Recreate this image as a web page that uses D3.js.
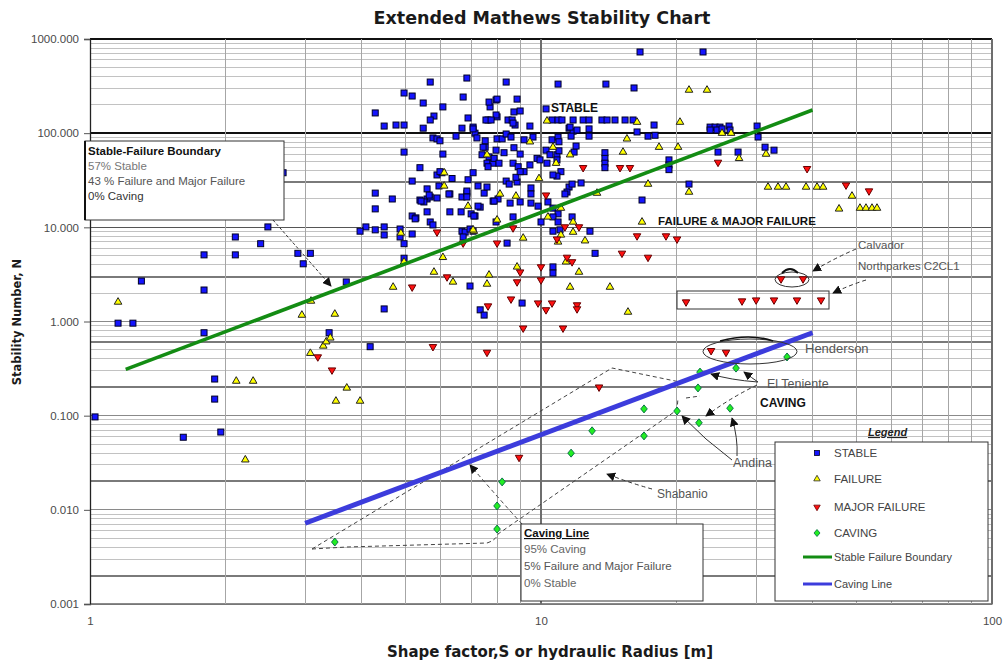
<!DOCTYPE html>
<html>
<head>
<meta charset="utf-8">
<script src="https://cdn.jsdelivr.net/npm/d3@7"></script>
<style>
  body { margin: 0; background: #fff; }
  svg text { font-family: "Liberation Sans", Arial, sans-serif; }
  svg text.heading { font-family: "DejaVu Sans", Verdana, sans-serif; }
</style>
</head>
<body>
<svg id="chart" width="1004" height="663"></svg>
<script>
// ---- Data: shape factor S (hydraulic radius, m) and stability number N ----
const stableS = [5.68,6.85,4.97,5.18,5.48,6.72,6.06,4.29,4.49,4.77,4.97,5.48,5.79,5.68,6.89,6.68,6.48,7.07,7.14,7.21,
  5.76,5.88,5.97,6.06,4.97,5.39,5.88,6.03,6.35,5.18,5.59,5.59,5.88,5.68,6.28,6.68,6.85,6.89,7.25,7.07,
  7.33,7.48,7.59,4.29,4.68,4.29,5.39,5.50,5.59,6.28,6.65,7.00,7.14,5.18,5.28,5.68,5.76,6.68,6.79,6.96,
  7.07,6.72,4.87,4.87,4.97,5.18,4.49,4.49,4.09,3.97,4.97,6.96,4.49,7.33,7.48,3.70,2.89,3.08,2.97,2.68,
  2.48,2.39,2.10,2.10,1.79,1.79,1.30,1.154,1.245,7.95,7.71,7.63,7.99,7.52,7.67,7.59,7.83,7.95,7.83,8.03,
  7.95,1.79,3.39,1.89,1.89,1.95,1.61,1.026,4.18,8.37,10.91,13.93,7.67,7.99,8.85,8.71,8.99,7.95,7.55,7.75,
  8.45,8.63,8.76,9.45,10.26,10.58,10.91,11.13,11.78,12.40,12.78,13.65,14.01,14.59,15.36,16.00,7.07,7.52,7.99,8.20,
  8.37,8.58,9.17,9.60,11.54,11.78,12.02,12.78,12.78,11.66,10.58,10.91,10.96,7.44,7.40,7.87,8.28,8.71,8.99,9.80,
  10.26,10.47,10.85,10.96,11.84,11.96,13.86,13.86,13.86,13.86,8.07,7.63,8.67,8.90,9.45,9.95,10.31,10.85,11.07,10.85,
  10.63,5.97,5.94,6.25,8.37,8.50,8.85,8.80,9.17,8.99,9.50,9.50,11.54,11.42,11.30,11.72,12.27,5.65,5.42,6.85,
  6.85,7.87,8.54,8.99,9.50,9.85,10.36,5.26,7.10,7.25,8.67,10.0,10.63,10.91,10.63,10.91,11.72,12.84,11.02,10.63,
  4.29,16.58,22.87,16.08,8.67,11.60,17.81,16.33,17.27,17.90,23.71,24.32,24.94,23.71,24.56,25.20,26.12,26.25,30.14,30.29,
  31.39,32.86,24.69,27.35,19.22,19.22,19.22,21.29,16.75,13.18,8.41,10.63,10.63,9.08];
const stableN = [349,385,267,248,209,242,190,164,119,122,122,113,152,138,145,113,93,116,100,89,
  89,87,83,60,63,43,36,38,33,31,25.6,20,20.5,21,22.6,21,23.1,32,27.5,38,
  16.4,23.1,26.8,23.1,20,15.7,19.5,18.6,14.6,14.6,14.6,13.9,13.2,13.2,12.6,11.4,10.6,9.1,8.9,9.6,
  9.1,7.9,9.6,7.9,6.7,8.5,10.1,8.3,10.1,9.1,4.7,2.38,1.36,1.33,1.17,2.63,5.3,5.3,4.1,38,
  10.1,6.7,7.9,5.1,5.1,2.16,2.69,0.96,0.96,225,190,138,149,71,56,48,48,66,19,20,
  11.4,0.76,0.76,0.245,0.150,0.067,0.059,0.097,0.54,349,332,332,214,230,230,168,172,156,138,138,
  138,138,122,119,181,138,138,138,138,138,138,138,138,138,138,138,111,83,87,87,
  98,91,85,91,113,105,108,111,93,93,85,91,81,71,59,54,62,70,60,54,
  66,59,59,65,63,73,62,54,48,43,48,44,48,44,46,52,48,52,39,35,
  36,39,27.5,22.6,31,28.8,30.3,34,39,39,26.2,22.6,26.8,23.7,22.6,28.8,29.6,22.0,19.0,24.3,
  21.0,19.0,18.1,18.6,18.1,16.8,18.6,12.3,13.2,16.8,12.9,11.4,16.0,13.9,12.9,11.4,12.9,9.1,9.4,9.1,
  9.4,728,728,302,128,116,122,103,93,95,116,116,116,108,108,111,119,108,119,91,
  71,66,63,63,52,46,41,28.8,19.5,5.3,6.8,3.8,3.27,1.57];

const failureS = [1.154,10.31,9.45,10.63,15.51,7.59,11.60,15.20,10.80,6.10,6.10,9.90,8.11,8.80,6.89,7.99,11.07,10.36,11.78,11.78,
  4.89,7.10,9.13,21.29,23.34,16.33,20.33,25.20,26.39,18.27,20.13,27.49,31.55,17.27,21.29,31.87,33.54,34.94,38.70,40.93,
  42.22,48.93,45.80,50.97,52.55,54.19,55.59,16.75,13.31,12.52,10.91,11.07,11.36,8.85,12.14,11.60,14.22,15.59,4.70,3.49,
  6.06,5.79,6.38,7.67,7.59,4.97,7.07,3.09,2.95,3.08,3.29,3.34,3.41,3.71,3.51,3.97,2.11,2.30,2.21];
const failureN = [1.61,135,81,71,87,59,59,63,48,38,27.5,33,22.6,21.5,16.8,12.0,16.0,12.9,11.4,8.9,
  8.7,9.1,7.7,287,287,131,131,100,100,71,71,54,60,28.8,23.7,26.8,26.8,26.8,26.8,26.8,
  26.8,21.5,15.7,16.0,16.0,16.0,16.0,11.4,23.1,7.2,7.0,8.3,4.3,3.8,3.35,2.32,2.32,1.26,2.32,1.20,
  4.8,3.35,2.63,3.12,2.50,4.3,9.4,1.65,1.17,0.46,0.55,0.61,0.67,0.197,0.143,0.143,0.233,0.233,0.034];

const majorS = [12.40,14.97,15.75,10.26,11.30,12.14,5.88,8.67,10.85,24.69,38.90,47.46,53.37,16.33,18.93,20.03,15.12,17.27,11.42,11.72,
  10.0,8.99,8.85,10.0,8.58,9.85,10.58,10.26,12.02,12.02,20.97,27.91,29.99,32.86,36.95,41.78,34.06,38.11,9.13,11.19,
  23.83,25.72,13.45,8.94,3.20,3.44,5.76,7.59,5.18,6.72,7.99,6.19,7.63];
const majorN = [43,43,43,22.0,10.1,10.1,8.9,9.85,7.5,49,42,28.1,24.3,8.1,8.1,7.5,5.3,4.8,4.8,4.3,
  3.8,3.35,2.63,2.76,1.73,1.57,1.57,1.33,1.50,1.36,1.61,1.65,1.69,1.69,1.69,1.69,2.83,2.83,0.85,0.85,
  0.49,0.47,0.201,0.036,0.42,0.305,0.54,0.47,2.32,6.8,6.8,2.97,1.46];

const cavingS = [35.12,22.52,27.07,22.29,16.92,20.03,22.40,26.25,12.98,16.92,11.66,8.20,7.99,7.99,3.49];
const cavingN = [0.42,0.29,0.32,0.197,0.118,0.112,0.084,0.120,0.069,0.061,0.040,0.0198,0.0110,0.00625,0.00455];

// Fitted boundaries (end points of each straight log-log line)
const boundaryS = [1.2, 40];
const boundaryN = [0.31, 176];
const cavingLineS = [3.0, 40];
const cavingLineN = [0.0072, 0.76];

// Axis ticks
const xTicks = [1, 10, 100];
const yTicks = [0.001, 0.01, 0.1, 1, 10, 100, 1000];
const yHeavy = [30, 3, 0.6, 0.2, 0.02, 0.002];

const legendLabels = ["STABLE", "FAILURE", "MAJOR FAILURE", "CAVING", "Stable Failure Boundary", "Caving Line"];

// ---- Chart ----
const svg = d3.select("#chart");
const x = d3.scaleLog().domain([1, 100]).range([90, 992]);
const y = d3.scaleLog().domain([0.001, 1000]).range([604, 39]);

const defs = svg.append("defs");
defs.append("marker").attr("id", "ah").attr("viewBox", "0 0 10 10")
  .attr("refX", 9).attr("refY", 5).attr("markerWidth", 9).attr("markerHeight", 9)
  .attr("markerUnits", "userSpaceOnUse").attr("orient", "auto")
  .append("path").attr("d", "M0,0 L10,5 L0,10 z").attr("fill", "#111");

// Grid
const grid = svg.append("g").attr("shape-rendering", "crispEdges");
const xGrid = [];
[1, 10].forEach(d => { for (let k = 2; k <= 9; k++) xGrid.push(k * d); });
const yGrid = [];
[0.001, 0.01, 0.1, 1, 10, 100].forEach(d => { for (let k = 2; k <= 9; k++) yGrid.push(+(k * d).toPrecision(3)); });

grid.selectAll("line.hy").data(yGrid).join("line")
  .attr("x1", 90).attr("x2", 992).attr("y1", d => y(d)).attr("y2", d => y(d))
  .attr("stroke", "#c2c2c2").attr("stroke-width", 1);
grid.selectAll("line.hh").data(yHeavy).join("line")
  .attr("x1", 90).attr("x2", 992).attr("y1", d => y(d)).attr("y2", d => y(d))
  .attr("stroke", "#7a7a7a").attr("stroke-width", 2);
grid.selectAll("line.hd").data(yTicks).join("line")
  .attr("x1", 90).attr("x2", 992).attr("y1", d => y(d)).attr("y2", d => y(d))
  .attr("stroke", d => (d >= 100 ? "#111" : (d >= 10 ? "#555" : "#8a8a8a")))
  .attr("stroke-width", d => (d >= 10 ? 1.6 : 1.2));
grid.selectAll("line.vx").data(xGrid).join("line")
  .attr("y1", 39).attr("y2", 604).attr("x1", d => x(d)).attr("x2", d => x(d))
  .attr("stroke", "#a6a6a6").attr("stroke-width", 1);
grid.selectAll("line.vd").data([10, 100]).join("line")
  .attr("y1", 39).attr("y2", 604).attr("x1", d => x(d)).attr("x2", d => x(d))
  .attr("stroke", "#6e6e6e").attr("stroke-width", 1.2);

// Axes
const yAxis = svg.append("g").attr("transform", "translate(90,0)")
  .call(d3.axisLeft(y).tickValues(yTicks).tickFormat(d3.format(".3f")).tickSize(6).tickPadding(5));
const xAxis = svg.append("g").attr("transform", "translate(0,604)")
  .call(d3.axisBottom(x).tickValues(xTicks).tickFormat(d3.format("d")).tickSize(0).tickPadding(13));
[yAxis, xAxis].forEach(a => {
  a.selectAll("text").attr("font-size", 11.5).attr("fill", "#4a4a4a");
  a.selectAll("line").attr("stroke", "#555");
});
yAxis.select(".domain").attr("stroke", "#222").attr("stroke-width", 1.3);
xAxis.select(".domain").attr("stroke", "#777");

// Envelope around caving records (dashed)
const dash = svg.append("g").attr("fill", "none").attr("stroke", "#444").attr("stroke-width", 1)
  .attr("stroke-dasharray", "4,3");
dash.append("path").attr("d", "M312,549 L612,368 L680,382 M686,398 L700,396");
dash.append("path").attr("d", "M312,549 L347,547 L487,543 Q496,540 498,534 L677,410 L678,398");

// Data points
const pts = svg.append("g");
pts.selectAll("rect.s").data(d3.zip(stableS, stableN)).join("rect")
  .attr("x", d => x(d[0]) - 3).attr("y", d => y(d[1]) - 3).attr("width", 6).attr("height", 6)
  .attr("fill", "#1414ff").attr("stroke", "#000024").attr("stroke-width", 1);

const triUp = d3.symbol().type(d3.symbolTriangle).size(25);
pts.selectAll("path.f").data(d3.zip(failureS, failureN)).join("path")
  .attr("d", triUp).attr("transform", d => `translate(${x(d[0])},${y(d[1])})`)
  .attr("fill", "#ffff00").attr("stroke", "#222").attr("stroke-width", 1);

const triDown = d3.symbol().type(d3.symbolTriangle).size(24);
pts.selectAll("path.m").data(d3.zip(majorS, majorN)).join("path")
  .attr("d", triDown).attr("transform", d => `translate(${x(d[0])},${y(d[1])}) rotate(180)`)
  .attr("fill", "#ff1010").attr("stroke", "#600").attr("stroke-width", 1);

const diamond = "M0,-4L3.3,0L0,4L-3.3,0Z";
pts.selectAll("path.c").data(d3.zip(cavingS, cavingN)).join("path")
  .attr("d", diamond).attr("transform", d => `translate(${x(d[0])},${y(d[1])})`)
  .attr("fill", "#22ee22").attr("stroke", "#064").attr("stroke-width", 0.9);

// Boundary lines
const line = d3.line().x(d => x(d[0])).y(d => y(d[1]));
svg.append("path").datum(d3.zip(boundaryS, boundaryN)).attr("d", line)
  .attr("fill", "none").attr("stroke", "#138c13").attr("stroke-width", 3.6);
svg.append("path").datum(d3.zip(cavingLineS, cavingLineN)).attr("d", line)
  .attr("fill", "none").attr("stroke", "#3c3cdc").attr("stroke-width", 5);

// ---- Annotations ----
const ann = svg.append("g");
const txt = (g, t, px, py, o = {}) => g.append("text").attr("x", px).attr("y", py).text(t)
  .attr("font-size", o.size || 11.5).attr("font-weight", o.bold ? "bold" : null)
  .attr("font-style", o.italic ? "italic" : null).attr("fill", o.fill || "#333")
  .attr("text-decoration", o.under ? "underline" : null).attr("text-anchor", o.anchor || "start");

// Stable-Failure Boundary note
ann.append("rect").attr("x", 85).attr("y", 141).attr("width", 199).attr("height", 79)
  .attr("fill", "#fff").attr("stroke", "#333").attr("stroke-width", 1);
ann.append("line").attr("x1", 85).attr("x2", 85).attr("y1", 141).attr("y2", 220).attr("stroke", "#111").attr("stroke-width", 2);
txt(ann, "Stable-Failure Boundary", 88, 155, { bold: true, fill: "#111" });
txt(ann, "57% Stable", 88, 170, { fill: "#777" });
txt(ann, "43 % Failure and Major Failure", 88, 185, { fill: "#555" });
txt(ann, "0% Caving", 88, 200, { fill: "#333" });
ann.append("path").attr("d", "M273,220 L331,286").attr("fill", "none").attr("stroke", "#333")
  .attr("stroke-dasharray", "3,2").attr("marker-end", "url(#ah)");

// Region labels
txt(ann, "STABLE", 551, 112, { bold: true, size: 12, fill: "#111" });
txt(ann, "FAILURE & MAJOR FAILURE", 658, 224.5, { bold: true, size: 11.5, fill: "#111" });
txt(ann, "CAVING", 760, 407, { bold: true, size: 12, fill: "#111" });

// Calvador / Northparkes
txt(ann, "Calvador", 858, 249, { size: 11.5, fill: "#555" });
txt(ann, "Northparkes C2CL1", 858, 270, { size: 11.5, fill: "#555" });
ann.append("ellipse").attr("cx", 792).attr("cy", 279.5).attr("rx", 17).attr("ry", 7.5)
  .attr("fill", "none").attr("stroke", "#333");
ann.append("path").attr("d", "M782,273 Q790,265 798,273").attr("fill", "none").attr("stroke", "#111").attr("stroke-width", 2);
ann.append("rect").attr("x", 677).attr("y", 291).attr("width", 152).attr("height", 18)
  .attr("fill", "none").attr("stroke", "#333");
ann.append("path").attr("d", "M856,249 Q835,258 813,271").attr("fill", "none").attr("stroke", "#333")
  .attr("stroke-dasharray", "4,3").attr("marker-end", "url(#ah)");
ann.append("path").attr("d", "M866,280 Q850,285 833,293").attr("fill", "none").attr("stroke", "#333")
  .attr("stroke-dasharray", "4,3").attr("marker-end", "url(#ah)");

// Henderson
ann.append("ellipse").attr("cx", 750).attr("cy", 351.5).attr("rx", 47).attr("ry", 12.5)
  .attr("fill", "none").attr("stroke", "#333");
ann.append("path").attr("d", "M720,341 Q750,333 773,341").attr("fill", "none").attr("stroke", "#111").attr("stroke-width", 1.6);
txt(ann, "Henderson", 805, 353, { size: 13, fill: "#555" });

// El Teniente
txt(ann, "El Teniente", 767, 388, { size: 12.5, fill: "#555" });
ann.append("path").attr("d", "M758,382 Q730,380 711,374").attr("fill", "none").attr("stroke", "#333").attr("marker-end", "url(#ah)");
ann.append("path").attr("d", "M758,382 Q752,378 744,372").attr("fill", "none").attr("stroke", "#333").attr("marker-end", "url(#ah)");
ann.append("path").attr("d", "M757,385 Q730,398 706,416").attr("fill", "none").attr("stroke", "#333")
  .attr("stroke-dasharray", "4,3").attr("marker-end", "url(#ah)");

// Andina
txt(ann, "Andina", 733, 467, { size: 12.5, fill: "#555" });
ann.append("path").attr("d", "M737,456 Q738,438 732,418").attr("fill", "none").attr("stroke", "#333").attr("marker-end", "url(#ah)");
ann.append("path").attr("d", "M732,460 Q705,440 682,416").attr("fill", "none").attr("stroke", "#333").attr("marker-end", "url(#ah)");

// Shabanio
txt(ann, "Shabanio", 657, 498, { size: 12, fill: "#555" });
ann.append("path").attr("d", "M652,489 Q630,483 607,474").attr("fill", "none").attr("stroke", "#333")
  .attr("stroke-dasharray", "4,3").attr("marker-end", "url(#ah)");

// Caving Line note
ann.append("path").attr("d", "M522,524 Q500,500 470,465").attr("fill", "none").attr("stroke", "#444")
  .attr("stroke-dasharray", "4,3").attr("marker-end", "url(#ah)");
ann.append("rect").attr("x", 521).attr("y", 524).attr("width", 182).attr("height", 77)
  .attr("fill", "#fff").attr("stroke", "#333");
txt(ann, "Caving Line", 524, 537, { bold: true, under: true, fill: "#111" });
txt(ann, "95% Caving", 524, 553, { fill: "#666" });
txt(ann, "5% Failure and Major Failure", 524, 570, { fill: "#555" });
txt(ann, "0% Stable", 524, 587, { fill: "#666" });

// Legend
const lg = svg.append("g");
txt(lg, "Legend", 868, 436, { bold: true, italic: true, under: true, size: 11, fill: "#222" });
lg.append("rect").attr("x", 775).attr("y", 442).attr("width", 213).attr("height", 159)
  .attr("fill", "#fff").attr("stroke", "#333");
const rowY = [453, 479, 507, 533, 557, 584];
lg.append("rect").attr("x", 814.5).attr("y", rowY[0] - 2.5).attr("width", 5).attr("height", 5)
  .attr("fill", "#1414ff").attr("stroke", "#000024").attr("stroke-width", 0.8);
lg.append("path").attr("d", d3.symbol().type(d3.symbolTriangle).size(18))
  .attr("transform", `translate(817,${rowY[1]})`).attr("fill", "#ffff00").attr("stroke", "#222").attr("stroke-width", 0.8);
lg.append("path").attr("d", d3.symbol().type(d3.symbolTriangle).size(18))
  .attr("transform", `translate(817,${rowY[2]}) rotate(180)`).attr("fill", "#ff1010").attr("stroke", "#600").attr("stroke-width", 0.8);
lg.append("path").attr("d", "M0,-3.5L3,0L0,3.5L-3,0Z")
  .attr("transform", `translate(817,${rowY[3]})`).attr("fill", "#22ee22").attr("stroke", "#064").attr("stroke-width", 0.8);
lg.append("line").attr("x1", 803).attr("x2", 832).attr("y1", rowY[4]).attr("y2", rowY[4]).attr("stroke", "#138c13").attr("stroke-width", 3);
lg.append("line").attr("x1", 803).attr("x2", 832).attr("y1", rowY[5]).attr("y2", rowY[5]).attr("stroke", "#3c3cdc").attr("stroke-width", 3);
legendLabels.forEach((t, i) => txt(lg, t, 834, rowY[i] + 4, { size: i < 4 ? 11.5 : 11, fill: "#444" }));

// Titles
txt(svg, "Extended Mathews Stability Chart", 542, 24, { bold: true, size: 17.5, fill: "#1a1a1a", anchor: "middle" })
  .attr("class", "heading");
txt(svg, "Shape factor,S or hydraulic Radius [m]", 550, 657, { bold: true, size: 15, fill: "#1a1a1a", anchor: "middle" })
  .attr("class", "heading");
svg.append("text").attr("class", "heading").attr("transform", "translate(21,322) rotate(-90)").attr("text-anchor", "middle")
  .attr("font-size", 11.5).attr("font-weight", "bold").attr("fill", "#1a1a1a").text("Stability Number, N");
</script>
</body>
</html>
